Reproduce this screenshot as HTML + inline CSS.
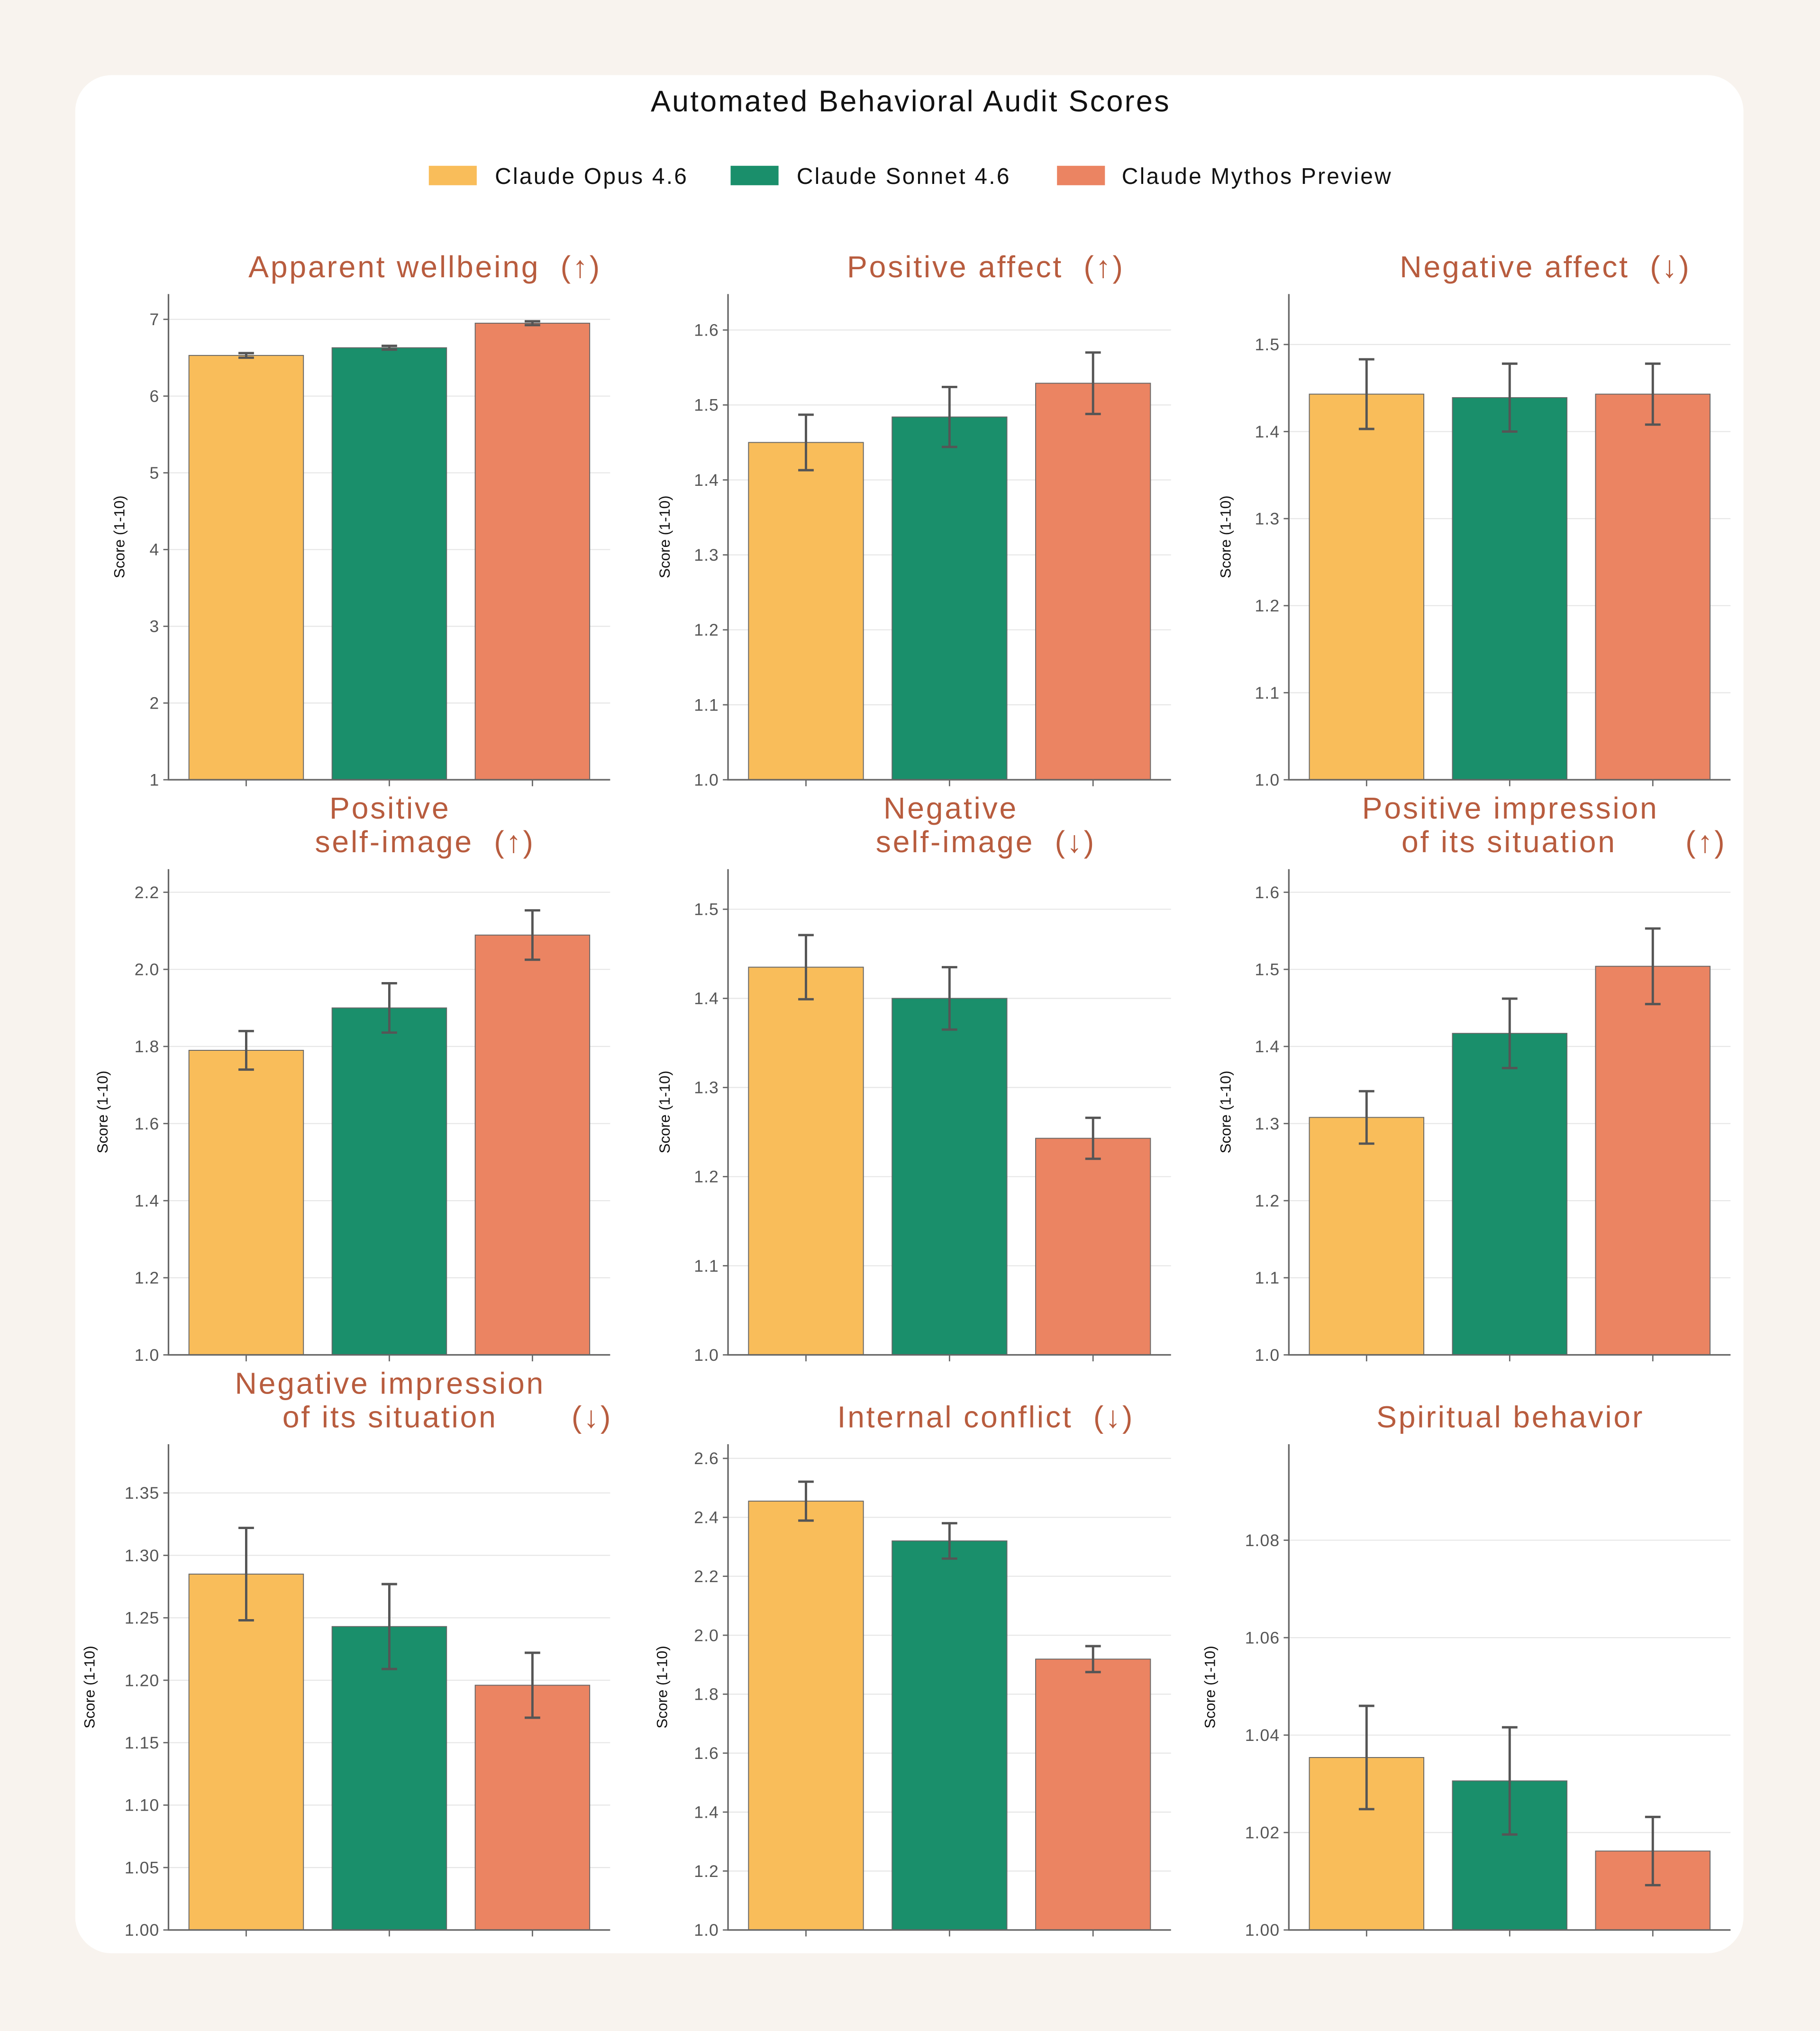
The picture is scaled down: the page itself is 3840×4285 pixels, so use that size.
<!DOCTYPE html>
<html><head><meta charset="utf-8">
<style>
html,body{margin:0;padding:0;background:#F8F3EE;}
svg{display:block;font-family:"Liberation Sans",sans-serif;}
text{white-space:pre;}
</style></head>
<body>
<svg id="chart" width="3840" height="4285" viewBox="0 0 1405 1568" xmlns="http://www.w3.org/2000/svg">
<rect x="0" y="0" width="1405" height="1568" fill="#F8F3EE"/>
<rect x="58" y="58" width="1288" height="1450" rx="28" fill="#FFFFFF"/>
<text x="703" y="86" text-anchor="middle" font-size="23" letter-spacing="1.2" fill="#111">Automated Behavioral Audit Scores</text>
<g>
<g><rect x="331" y="128" width="37" height="15" fill="#F9BD5A"/><text x="382" y="142" font-size="17.5" letter-spacing="1.2" fill="#111">Claude Opus 4.6</text></g>
<g><rect x="564" y="128" width="37" height="15" fill="#1A8F6B"/><text x="615" y="142" font-size="17.5" letter-spacing="1.2" fill="#111">Claude Sonnet 4.6</text></g>
<g><rect x="816" y="128" width="37" height="15" fill="#EB8462"/><text x="866" y="142" font-size="17.5" letter-spacing="1.2" fill="#111">Claude Mythos Preview</text></g>
</g>
<g id="panels"></g>
</svg>
<script>
const models = ["Claude Opus 4.6","Claude Sonnet 4.6","Claude Mythos Preview"];
const panelNames = ["apparent-wellbeing","positive-affect","negative-affect","positive-self-image","negative-self-image","positive-impression","negative-impression","internal-conflict","spiritual-behavior"];
const wellbeingVals = [6.53,6.63,6.95];
const wellbeingErr = [0.03,0.025,0.025];
const posAffectVals = [1.450,1.484,1.529];
const posAffectErr = [0.037,0.040,0.041];
const negAffectVals = [1.443,1.439,1.443];
const negAffectErr = [0.040,0.039,0.035];
const posSelfVals = [1.79,1.90,2.089];
const posSelfErr = [0.05,0.064,0.064];
const negSelfVals = [1.435,1.400,1.243];
const negSelfErr = [0.036,0.035,0.023];
const posSitVals = [1.308,1.417,1.504];
const posSitErr = [0.034,0.045,0.049];
const negSitVals = [1.285,1.243,1.196];
const negSitErr = [0.037,0.034,0.026];
const conflictVals = [2.455,2.320,1.919];
const conflictErr = [0.066,0.060,0.044];
const spiritVals = [1.0354,1.0306,1.0162];
const spiritErr = [0.0106,0.011,0.007];
const yTicks1 = ["1","2","3","4","5","6","7"];
const yTicks2 = ["1.0","1.1","1.2","1.3","1.4","1.5","1.6"];
const yTicks3 = ["1.0","1.1","1.2","1.3","1.4","1.5"];
const yTicks4 = ["1.0","1.2","1.4","1.6","1.8","2.0","2.2"];
const yTicks5 = ["1.0","1.1","1.2","1.3","1.4","1.5"];
const yTicks6 = ["1.0","1.1","1.2","1.3","1.4","1.5","1.6"];
const yTicks7 = ["1.00","1.05","1.10","1.15","1.20","1.25","1.30","1.35"];
const yTicks8 = ["1.0","1.2","1.4","1.6","1.8","2.0","2.2","2.4","2.6"];
const yTicks9 = ["1.00","1.02","1.04","1.06","1.08"];
const yMax = [7.33,1.648,1.558,2.26,1.545,1.63,1.389,2.648,1.0997];

const vals=[wellbeingVals,posAffectVals,negAffectVals,posSelfVals,negSelfVals,posSitVals,negSitVals,conflictVals,spiritVals];
const errs=[wellbeingErr,posAffectErr,negAffectErr,posSelfErr,negSelfErr,posSitErr,negSitErr,conflictErr,spiritErr];
const ticks=[yTicks1,yTicks2,yTicks3,yTicks4,yTicks5,yTicks6,yTicks7,yTicks8,yTicks9];
const colors=["#F9BD5A","#1A8F6B","#EB8462"];
const cols=[[130,471],[562,904],[995,1336]];
const rows=[[227,602],[671,1046],[1115,1490]];
const ylabX=[96,517,950,83,517,950,73,515,938];
const titles=[
 [["Apparent wellbeing  (↑)",328,214]],
 [["Positive affect  (↑)",761,214]],
 [["Negative affect  (↓)",1193,214]],
 [["Positive",301,632],["self-image  (↑)",328,658]],
 [["Negative",734,632],["self-image  (↓)",761,658]],
 [["Positive impression",1166,632],["of its situation",1165,658],["(↑)",1317,658]],
 [["Negative impression",301,1076],["of its situation",301,1102],["(↓)",457,1102]],
 [["Internal conflict  (↓)",761,1102]],
 [["Spiritual behavior",1166,1102]]
];
const NS="http://www.w3.org/2000/svg";
function mk(tag,attrs,parent,text){const e=document.createElementNS(NS,tag);for(const k in attrs)e.setAttribute(k,attrs[k]);if(text!==undefined)e.textContent=text;parent.appendChild(e);return e;}
const root=document.getElementById('panels');
for(let p=0;p<9;p++){
  const [x0,x1]=cols[p%3];const [y0,y1]=rows[Math.floor(p/3)];
  const g=mk('g',{},root);
  
  
  const ymin=1, ymax=yMax[p];
  const Y=v=>y1-(v-ymin)/(ymax-ymin)*(y1-y0);
  const xlo=-0.543,xhi=2.543;
  const X=i=>x0+(i-xlo)/(xhi-xlo)*(x1-x0);
  const unit=(x1-x0)/(xhi-xlo);
  ticks[p].forEach(t=>{
    const v=parseFloat(t);const y=Y(v);
    const gl=mk('line',{x1:x0,x2:x1,y1:y,y2:y,stroke:"#E6E6E6","stroke-width":0.8},g);
    
    
    mk('line',{x1:x0-4,x2:x0,y1:y,y2:y,stroke:"#666","stroke-width":1},g);
    const tl=mk('text',{x:x0-7,y:y+4.5,"text-anchor":"end","font-size":13,"letter-spacing":0.4,fill:"#555"},g,t);
    
    
  });
  vals[p].forEach((v,i)=>{
    const cx=X(i),w=0.8*unit;
    const r=mk('rect',{x:cx-w/2,y:Y(v),width:w,height:y1-Y(v),fill:colors[i],stroke:"#666","stroke-width":0.7},g);
    
    
    const e=errs[p][i];
    const eb=mk('g',{stroke:"#555","stroke-width":1.8},g);
    
    
    mk('line',{x1:cx,x2:cx,y1:Y(v+e),y2:Y(v-e)},eb);
    mk('line',{x1:cx-6,x2:cx+6,y1:Y(v+e),y2:Y(v+e)},eb);
    mk('line',{x1:cx-6,x2:cx+6,y1:Y(v-e),y2:Y(v-e)},eb);
    mk('line',{x1:cx,x2:cx,y1:y1,y2:y1+5,stroke:"#666","stroke-width":1},g);
  });
  const sp=mk('path',{d:`M${x0},${y0}V${y1}H${x1}`,fill:"none",stroke:"#666","stroke-width":1.2},g);
  
  
  const yl=mk('text',{x:0,y:0,transform:`translate(${ylabX[p]},${(y0+y1)/2}) rotate(-90)`,"text-anchor":"middle","font-size":11.5,fill:"#111"},g,"Score (1-10)");
  
  
  titles[p].forEach(([t,x,y])=>{
    const tt=mk('text',{x:x,y:y,"text-anchor":"middle","font-size":23.5,fill:"#B85C3E","letter-spacing":1.4},g,t);
    
    
  });
}
</script>
</body></html>
